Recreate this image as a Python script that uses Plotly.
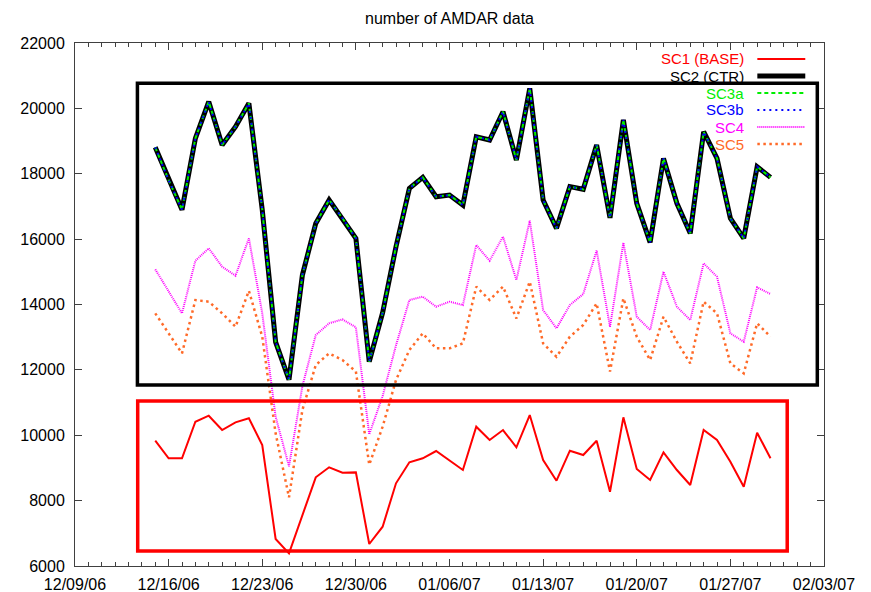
import pandas as pd
import plotly.graph_objects as go

# Daily AMDAR data counts, 12/15/06 - 01/30/07
dates = pd.date_range("2006-12-15", "2007-01-30", freq="D")

sc1_base = [9833, 9294, 9294, 10414, 10598, 10160, 10395, 10518, 9701, 6826,
            6388, 7560, 8713, 9019, 8854, 8864, 6673, 7203, 8530, 9172,
            9294, 9518, 9222, 8937, 10262, 9854, 10160, 9631, 10619, 9243,
            8610, 9528, 9396, 9833, 8273, 10548, 8967, 8631, 9477, 8937,
            8478, 10160, 9854, 9192, 8427, 10079, 9294]

sc2_ctr = [18808, 17808, 16900, 19083, 20204, 18879, 19439, 20154, 16900, 12850,
           11700, 14900, 16480, 17200, 16637, 16025, 12250, 13750, 15768, 17554,
           17890, 17297, 17349, 17043, 19133, 19032, 19898, 18420, 20613, 17196,
           16330, 17605, 17524, 18879, 16650, 19650, 17095, 15900, 18471, 17095,
           16178, 19286, 18471, 16637, 16025, 18216, 17890]

sc3a = list(sc2_ctr)
sc3b = list(sc2_ctr)

sc4 = [15075, 14392, 13730, 15340, 15718, 15156, 14881, 16025, 13730, 10567,
       9050, 11500, 13066, 13424, 13546, 13302, 10030, 11200, 12750, 14137,
       14239, 13932, 14086, 13984, 15820, 15340, 16076, 14749, 16565, 13830,
       13271, 13984, 14321, 15650, 13320, 15890, 13626, 13219, 15003, 13932,
       13525, 15259, 14850, 13117, 12861, 14525, 14321]

sc5 = [13730, 13117, 12505, 14137, 14086, 13730, 13320, 14420, 13015, 10059,
       8101, 10772, 12148, 12505, 12301, 11950, 9100, 10262, 11690, 12607,
       13117, 12658, 12658, 12811, 14545, 14137, 14545, 13575, 14698, 12811,
       12403, 13015, 13372, 14035, 11950, 14188, 13015, 12301, 13626, 12861,
       12199, 14086, 13730, 12199, 11894, 13424, 13015]

series_names = ["SC1 (BASE)", "SC2 (CTR)", "SC3a", "SC3b", "SC4", "SC5"]

FONT = "Liberation Sans, Arial, Helvetica, sans-serif"

styles = {
    "SC1 (BASE)": dict(color="#ff0000", width=2, dash="solid"),
    "SC2 (CTR)": dict(color="#000000", width=5, dash="solid"),
    "SC3a": dict(color="#00ee00", width=2, dash="4px,3px"),
    "SC3b": dict(color="#0000ff", width=2, dash="2px,4px"),
    "SC4": dict(color="#ff00ff", width=2, dash="1px,1px"),
    "SC5": dict(color="#ff6a28", width=2.5, dash="2.5px,3.5px"),
}
values = {
    "SC1 (BASE)": sc1_base,
    "SC2 (CTR)": sc2_ctr,
    "SC3a": sc3a,
    "SC3b": sc3b,
    "SC4": sc4,
    "SC5": sc5,
}

fig = go.Figure()
for name in series_names:
    fig.add_trace(go.Scatter(
        x=dates, y=values[name], mode="lines", name=name,
        line=styles[name], showlegend=False,
    ))

# Highlight boxes around the two groups of runs
fig.add_shape(type="rect", xref="x", yref="y",
              x0="2006-12-13 16:00", x1="2007-02-02 12:00", y0=11540, y1=20770,
              line=dict(color="#000000", width=3.5), fillcolor="rgba(0,0,0,0)")
fig.add_shape(type="rect", xref="x", yref="y",
              x0="2006-12-13 16:30", x1="2007-01-31 06:00", y0=6460, y1=11050,
              line=dict(color="#ff0000", width=3.5), fillcolor="rgba(0,0,0,0)")

# Key in the upper right: label followed by a line sample
plot_h = 523.0
row0_px = 16.0
row_step = 17.0
for i, name in enumerate(series_names):
    yp = 1 - (row0_px + i * row_step) / plot_h
    st = styles[name]
    fig.add_annotation(
        xref="paper", yref="paper", x=0.896, y=yp, xanchor="right", yanchor="middle",
        text=name, showarrow=False,
        font=dict(family=FONT, size=15, color=st["color"]),
    )
    fig.add_shape(
        type="line", xref="paper", yref="paper", x0=0.911, x1=0.975, y0=yp, y1=yp,
        line=dict(color=st["color"], width=st["width"], dash=st["dash"]),
    )

axis_color = "#404040"
fig.update_layout(
    width=871, height=592,
    margin=dict(l=75, r=47, t=43, b=26),
    paper_bgcolor="white", plot_bgcolor="white",
    font=dict(family=FONT, size=16, color="#000000"),
    title=dict(text="number of AMDAR data", x=0.5, xref="paper", xanchor="center",
               y=1 - 18 / 592, yref="container", yanchor="middle",
               font=dict(family=FONT, size=16, color="#000000")),
)
fig.update_xaxes(
    type="date", range=["2006-12-09", "2007-02-03"],
    tick0="2006-12-09", dtick=7 * 86400000, tickformat="%m/%d/%y",
    ticks="inside", ticklen=7, tickcolor=axis_color, tickwidth=1,
    minor=dict(dtick=86400000, tick0="2006-12-09", ticks="inside", ticklen=4,
               tickcolor=axis_color, tickwidth=1),
    showline=True, linecolor=axis_color, linewidth=1, mirror="ticks",
    showgrid=False, zeroline=False, automargin=False, ticklabelstandoff=4,
    tickfont=dict(size=16),
)
fig.update_yaxes(
    range=[6000, 22000], dtick=2000, tick0=6000, tickformat="d",
    ticks="inside", ticklen=7, tickcolor=axis_color, tickwidth=1,
    showline=True, linecolor=axis_color, linewidth=1, mirror="ticks",
    showgrid=False, zeroline=False, automargin=False, ticklabelstandoff=6,
    tickfont=dict(size=16),
)

fig.write_html("out.html")
